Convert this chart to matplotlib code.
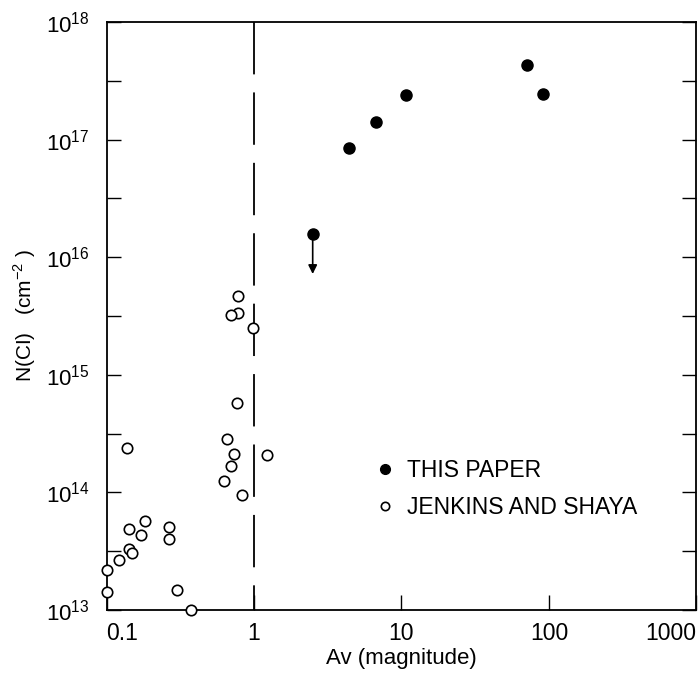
import numpy as np
import matplotlib
matplotlib.use("Agg")
import matplotlib.pyplot as plt
from matplotlib.lines import Line2D
from matplotlib.ticker import FixedLocator, NullFormatter, NullLocator

plt.rcParams['font.family'] = ['Liberation Sans', 'DejaVu Sans']

# this paper (filled)
av_this = [2.5, 4.43, 6.7, 10.7, 70.6, 91.0]
ncl_this = [1.59e16, 8.5e16, 1.42e17, 2.39e17, 4.32e17, 2.44e17]
upper_limit_to = 7.2e15  # arrow end for the Av=2.5 upper limit

# Jenkins and Shaya (open)
av_js = [0.1, 0.1, 0.122, 0.141, 0.150, 0.141, 0.172, 0.182, 0.267, 0.267,
         0.301, 0.372, 0.626, 0.702, 0.728, 0.833, 1.22, 0.656, 0.767, 0.137,
         0.783, 0.783, 0.702, 0.984]
ncl_js = [1.41e13, 2.2e13, 2.67e13, 3.33e13, 3.04e13, 4.86e13, 4.32e13, 5.68e13, 5.08e13, 4.02e13,
          1.48e13, 1.0e13, 1.26e14, 1.67e14, 2.13e14, 9.5e13, 2.09e14, 2.83e14, 5.75e14, 2.39e14,
          4.7e15, 3.33e15, 3.2e15, 2.49e15]

x_ticks = [0.1, 1, 10, 100, 1000]
x_ticklabels = ['0.1', '1', '10', '100', '1000']
y_major = [1e13, 1e14, 1e15, 1e16, 1e17, 1e18]
y_labels = [r'$\mathregular{10^{%d}}$' % e for e in range(13, 19)]

fig = plt.figure(figsize=(6.98, 6.75), dpi=100)
ax = fig.add_axes([0.1526, 0.0963, 0.8452, 0.8711])
ax.set_xscale('log')
ax.set_yscale('log')
ax.set_xlim(0.1, 1000)
ax.set_ylim(1e13, 1e18)

# dashed line at Av = 1, dash pattern starting from the top
ax.plot([1, 1], [1e18, 1e13], color='black', lw=1.3, dashes=(29, 10), zorder=1)

ax.plot(av_js, ncl_js, 'o', ms=7.5, mfc='white', mec='black', mew=1.2, clip_on=False, zorder=3)
ax.plot(av_this, ncl_this, 'o', ms=8, color='black', zorder=3)
ax.annotate('', xy=(av_this[0], upper_limit_to), xytext=(av_this[0], ncl_this[0]),
            arrowprops=dict(arrowstyle='-|>', color='black', lw=1.2, mutation_scale=13,
                            shrinkA=0, shrinkB=0))

# ticks
ax.xaxis.set_major_locator(FixedLocator(x_ticks))
ax.set_xticklabels(x_ticklabels)
ax.xaxis.set_minor_locator(NullLocator())
ax.yaxis.set_major_locator(FixedLocator(y_major))
ax.set_yticklabels(y_labels)
ax.yaxis.set_minor_locator(FixedLocator(10 ** np.arange(13.5, 18, 1.0)))
ax.yaxis.set_minor_formatter(NullFormatter())
ax.tick_params(axis='x', which='both', direction='in', length=11, width=1, labelsize=16.5, pad=9, top=False)
ax.tick_params(axis='y', which='both', direction='in', length=10, width=1, labelsize=16, pad=12,
               left=True, right=True)
xt = ax.get_xticklabels()
xt[0].set_horizontalalignment('left')
xt[-1].set_horizontalalignment('right')
for s in ax.spines.values():
    s.set_linewidth(1.3)

ax.set_xlabel('Av (magnitude)', fontsize=16, labelpad=2)
ax.set_ylabel(r'N(CI)   (cm$^{\mathregular{-2}}$ )', fontsize=15, labelpad=6)

handles = [Line2D([], [], ls='none', marker='o', ms=7, color='black'),
           Line2D([], [], ls='none', marker='o', ms=6, mfc='white', mec='black', mew=1.2)]
ax.legend(handles, ['THIS PAPER', 'JENKINS AND SHAYA'], loc='upper left',
          bbox_to_anchor=(0.422, 0.292), frameon=False, fontsize=16.5, handlelength=0.8,
          handletextpad=0.55, labelspacing=0.6)

fig.savefig('out.png', dpi=100)
